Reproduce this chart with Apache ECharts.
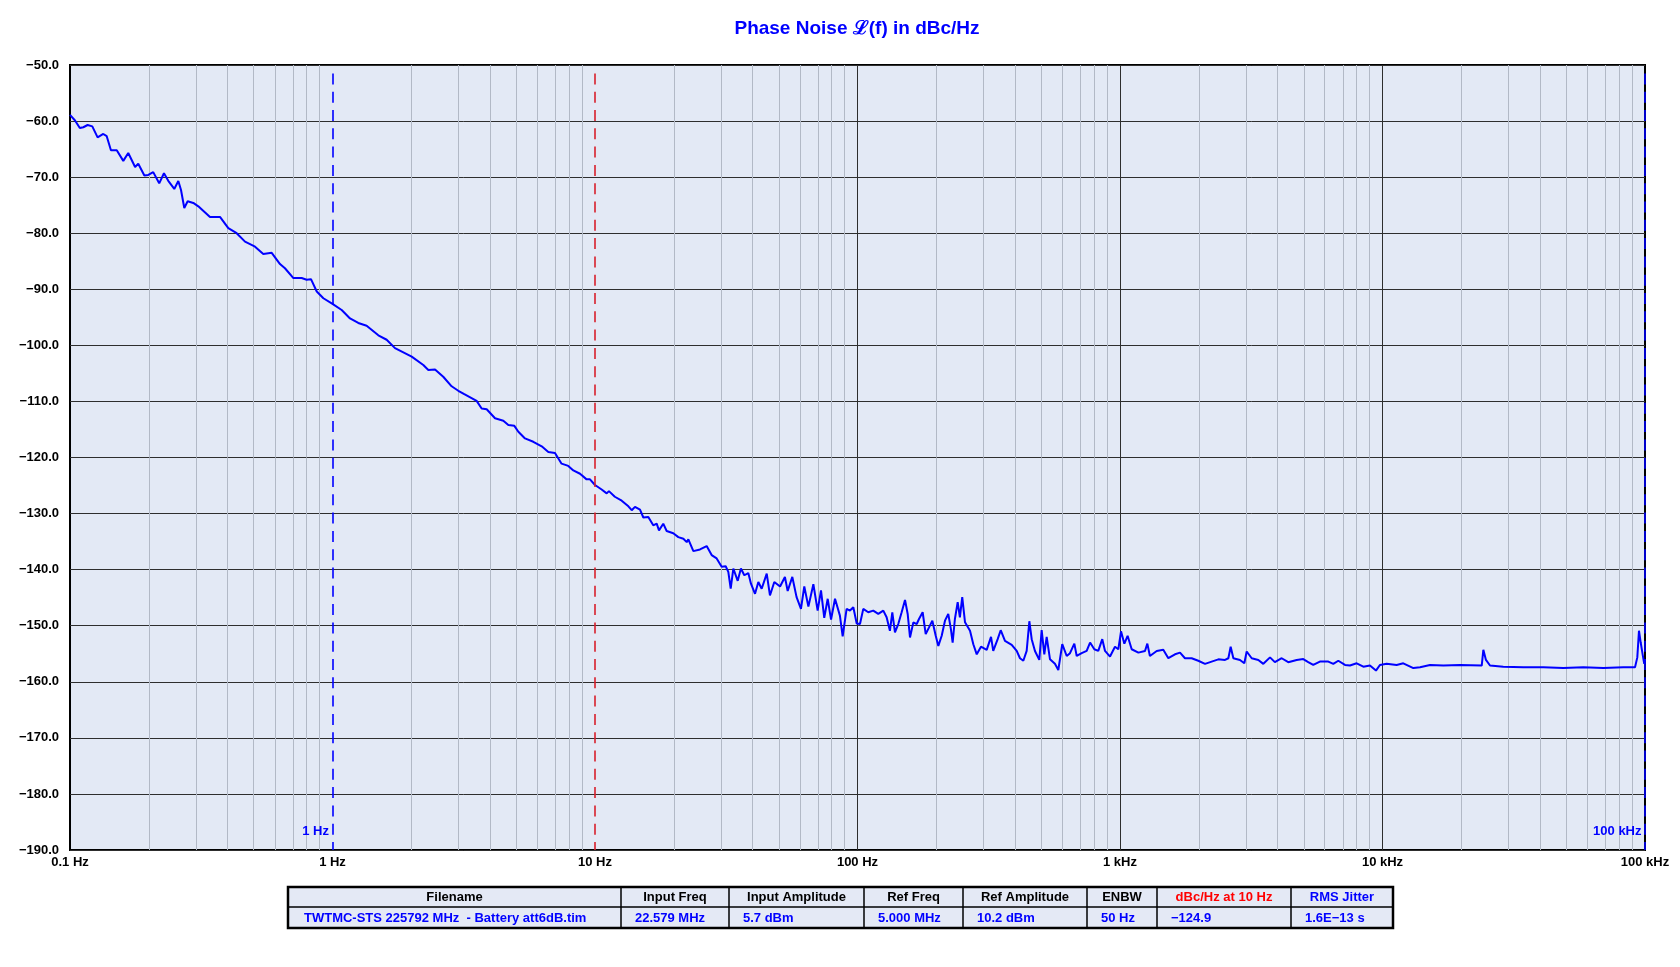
<!DOCTYPE html>
<html>
<head>
<meta charset="utf-8">
<script src="https://cdn.jsdelivr.net/npm/echarts@6/dist/echarts.min.js"></script>
<style>
html,body{margin:0;padding:0;background:#fff;}
#chart{width:1680px;height:967px;}
</style>
</head>
<body>
<div id="chart"></div>
<script>
// ---------------- data ----------------
const titleText = 'Phase Noise \u2112(f) in dBc/Hz';
const decadeLabels = ['0.1 Hz', '1 Hz', '10 Hz', '100 Hz', '1 kHz', '10 kHz', '100 kHz'];
const yMin = -190, yMax = -50, yStep = 10;

const freqHz = [
  0.1, 0.1045, 0.109, 0.1124, 0.1167, 0.1216, 0.1274, 0.1339, 0.138, 0.1432,
  0.1507, 0.1596, 0.1667, 0.177, 0.182, 0.192, 0.1987, 0.2075, 0.2187, 0.228,
  0.2368, 0.2496, 0.2586, 0.2648, 0.2725, 0.2807, 0.2949, 0.3082, 0.3414, 0.3727,
  0.4009, 0.4315, 0.4642, 0.5069, 0.5449, 0.5867, 0.631, 0.659, 0.7097, 0.763,
  0.797, 0.828, 0.871, 0.923, 1.0, 1.084, 1.166, 1.254, 1.349, 1.495,
  1.608, 1.73, 2.003, 2.218, 2.318, 2.458, 2.642, 2.843, 3.015, 3.177,
  3.54, 3.70, 3.867, 4.16, 4.475, 4.676, 4.929, 5.105, 5.412, 5.82,
  6.265, 6.64, 7.04, 7.46, 7.91, 8.27, 8.77, 9.29, 9.57, 10.0,
  10.6, 11.08, 11.3, 11.9, 12.64, 13.4, 13.8, 14.2, 14.84, 15.28,
  15.96, 16.67, 17.18, 17.53, 18.2, 18.75, 19.87, 20.77, 21.71, 22.36,
  22.68, 23.7, 25.12, 26.63, 27.82, 29.07, 30.38, 31.47, 32.2, 32.88,
  33.65, 34.97, 35.97, 37.05, 38.37, 39.28, 40.7, 41.9, 43.15, 45.1,
  46.4, 48.2, 50.7, 52.9, 54.2, 56.45, 58.6, 60.9, 62.7, 65.0,
  67.9, 70.5, 72.6, 74.7, 77.0, 79.3, 82.1, 85.7, 87.8, 90.9,
  93.6, 96.4, 99.3, 102.2, 105.2, 109.9, 114.8, 120.0, 125.4, 129.1,
  132.9, 135.7, 138.9, 143.0, 147.3, 151.7, 155.3, 158.5, 163.2, 168.1,
  171.5, 177.1, 181.9, 187.3, 192.8, 198.6, 203.2, 209.3, 215.4, 221.7,
  226.9, 230.4, 235.0, 240.8, 245.5, 250.6, 256.8, 268.3, 276.2, 284.6,
  295.4, 310.6, 322.6, 328.9, 342.0, 351.2, 364.6, 386.8, 404.1, 415.9,
  428.3, 441.0, 451.5, 460.9, 474.3, 492.7, 503.0, 514.8, 525.6, 541.2,
  565.1, 582.1, 602.6, 626.6, 645.0, 669.9, 684.0, 714.5, 746.5, 769.1,
  798.3, 826.5, 856.0, 876.9, 916.2, 957.0, 985.6, 1009, 1039, 1069,
  1108, 1175, 1245, 1271, 1300, 1380, 1462, 1528, 1620, 1693,
  1768, 1875, 1987, 2108, 2234, 2370, 2512, 2587, 2640, 2703,
  2864, 2976, 3038, 3175, 3365, 3516, 3728, 3890, 4130, 4375,
  4710, 4990, 5213, 5447, 5775, 6217, 6495, 6786, 7195, 7516,
  7973, 8454, 8957, 9443, 9776, 10370, 11320, 12000, 13110, 13900,
  15170, 17060, 19730, 23880, 24220, 24780, 25680, 28840, 34380, 40990,
  48860, 58230, 69390, 82670, 91620, 93480, 94850, 96300, 97940, 99330,
  100000
];
const noiseDbc = [
  -58.9, -59.9, -61.25, -61.1, -60.7, -60.95, -62.9, -62.3, -62.7, -65.2,
  -65.2, -67.1, -65.7, -68.2, -67.6, -69.7, -69.6, -69.1, -71.1, -69.3,
  -70.65, -72.1, -70.7, -72.3, -75.5, -74.3, -74.6, -75.2, -77.1, -77.1,
  -79.1, -80.0, -81.5, -82.4, -83.7, -83.5, -85.5, -86.25, -88.0, -88.0,
  -88.3, -88.2, -90.4, -91.6, -92.6, -93.7, -95.2, -96.0, -96.5, -98.2,
  -99.0, -100.5, -102.0, -103.5, -104.4, -104.3, -105.6, -107.3, -108.1, -108.7,
  -109.9, -111.25, -111.4, -113.0, -113.45, -114.2, -114.35, -115.4, -116.6, -117.2,
  -118.0, -119.0, -119.2, -121.1, -121.5, -122.3, -122.9, -123.9, -123.9, -124.9,
  -125.7, -126.4, -126.0, -127.0, -127.7, -128.7, -129.4, -128.8, -129.3, -130.7,
  -130.6, -132.1, -131.8, -133.0, -131.8, -133.1, -133.5, -134.2, -134.5, -135.1,
  -134.6, -136.7, -136.4, -135.8, -137.4, -138.0, -139.5, -139.4, -140.4, -143.4,
  -139.8, -142.0, -139.8, -141.0, -140.6, -142.5, -144.3, -142.2, -143.4, -140.7,
  -144.6, -142.2, -143.0, -141.3, -143.8, -141.3, -144.9, -147.0, -143.0, -146.6,
  -142.6, -147.3, -143.7, -148.6, -145.2, -148.9, -145.2, -148.2, -151.9, -147.0,
  -147.3, -146.7, -149.6, -149.7, -147.0, -147.6, -147.3, -147.9, -147.3, -148.5,
  -150.9, -147.6, -151.2, -149.7, -147.6, -145.4, -147.9, -152.1, -149.4, -149.7,
  -148.8, -147.6, -151.5, -150.3, -149.1, -151.8, -153.6, -151.8, -149.1, -147.9,
  -150.6, -153.0, -148.8, -145.8, -148.5, -144.9, -149.4, -150.9, -153.3, -155.1,
  -153.75, -154.3, -152.0, -154.5, -152.4, -150.8, -152.7, -153.4, -154.5, -155.8,
  -156.25, -154.5, -149.2, -152.4, -154.5, -156.1, -150.8, -155.1, -152.0, -156.0,
  -156.8, -157.9, -153.3, -155.4, -154.9, -153.2, -155.4, -154.9, -154.5, -153.0,
  -154.2, -154.5, -152.4, -154.5, -155.5, -153.75, -154.2, -151.0, -153.2, -151.8,
  -154.2, -154.8, -154.5, -153.2, -155.4, -154.5, -154.3, -155.8, -155.1, -154.8,
  -155.8, -155.8, -156.25, -156.8, -156.4, -156.0, -156.1, -155.8, -153.75, -155.8,
  -156.1, -156.7, -154.6, -155.8, -156.1, -156.8, -155.65, -156.5, -155.8, -156.5,
  -156.1, -155.95, -156.5, -157.0, -156.4, -156.4, -156.8, -156.25, -157.0, -157.1,
  -156.7, -157.3, -157.1, -158.0, -157.0, -156.8, -157.0, -156.7, -157.55, -157.4,
  -157.0, -157.1, -157.0, -157.1, -154.3, -156.1, -157.1, -157.3, -157.4, -157.4,
  -157.55, -157.4, -157.55, -157.4, -157.4, -155.65, -150.9, -153.0, -155.1, -156.8,
  -155.95
];

const markerFreqs = [1, 10, 100000];
const markerColors = ['#0000ff', '#d8202c', '#0000ff'];
const markerLabels = ['1 Hz', '', '100 kHz'];

const tableHeaders = ['Filename', 'Input Freq', 'Input Amplitude', 'Ref Freq', 'Ref Amplitude', 'ENBW', 'dBc/Hz at 10 Hz', 'RMS Jitter'];
const headerColors = ['#000', '#000', '#000', '#000', '#000', '#000', '#ff0000', '#0000ff'];
const tableValues = ['TWTMC-STS 225792 MHz  - Battery att6dB.tim', '22.579 MHz', '5.7 dBm', '5.000 MHz', '10.2 dBm', '50 Hz', '\u2212124.9', '1.6E\u221213 s'];

// ---------------- layout ----------------
const FONT = '"Liberation Sans", Arial, Helvetica, sans-serif';
const gridBox = {left: 70, right: 35, top: 65, bottom: 117};
const lg = (f) => Math.log10(f);

const seriesData = freqHz.map((f, i) => [lg(f), noiseDbc[i]]);

// grid lines in the log axis: minor (2..9 per decade) and major decades inside
const gridLineItems = [];
for (let d = -1; d < 5; d++) {
  for (let k = 2; k <= 9; k++) {
    gridLineItems.push({xAxis: lg(k * Math.pow(10, d)), lineStyle: {color: '#b2b9c6', width: 1, type: 'solid'}});
  }
}
[100, 1000, 10000].forEach((f) => {
  gridLineItems.push({xAxis: lg(f), lineStyle: {color: '#2e2e2e', width: 1, type: 'solid'}});
});

const markerLineItems = markerFreqs.map((f, i) => [
  {coord: [lg(f), -51.5], lineStyle: {color: markerColors[i], width: 1.6, type: [11, 7.3]}},
  {coord: [lg(f), yMin]}
]);
const markerPointItems = markerFreqs.map((f, i) => ({
  coord: [lg(f), -186.6],
  label: {formatter: markerLabels[i]}
})).filter((p, i) => markerLabels[i] !== '');

// table graphic
const colEdges = [288, 621, 729, 864, 963, 1087, 1157, 1291, 1393];
const tTop = 887, tMid = 907, tBot = 928;
const tableGraphics = [];
tableGraphics.push({type: 'rect', shape: {x: colEdges[0], y: tTop, width: colEdges[colEdges.length - 1] - colEdges[0], height: tBot - tTop},
  style: {fill: '#e4e9f5', stroke: '#000', lineWidth: 2.5}, z: 10});
tableGraphics.push({type: 'line', shape: {x1: colEdges[0], y1: tMid, x2: colEdges[colEdges.length - 1], y2: tMid},
  style: {stroke: '#000', lineWidth: 1.5}, z: 11});
for (let i = 1; i < colEdges.length - 1; i++) {
  tableGraphics.push({type: 'line', shape: {x1: colEdges[i], y1: tTop, x2: colEdges[i], y2: tBot},
    style: {stroke: '#000', lineWidth: 1.5}, z: 11});
}
tableHeaders.forEach((h, i) => {
  tableGraphics.push({type: 'text', x: (colEdges[i] + colEdges[i + 1]) / 2, y: (tTop + tMid) / 2 + 0.5, z: 12,
    style: {text: h, align: 'center', verticalAlign: 'middle', font: 'bold 13px ' + FONT, fill: headerColors[i]}});
});
tableValues.forEach((v, i) => {
  tableGraphics.push({type: 'text', x: colEdges[i] + (i === 0 ? 16 : 14), y: (tMid + tBot) / 2 + 0.5, z: 12,
    style: {text: v, align: 'left', verticalAlign: 'middle', font: 'bold 13px ' + FONT, fill: '#0000ff'}});
});

const chart = echarts.init(document.getElementById('chart'), null, {renderer: 'canvas'});
chart.setOption({
  animation: false,
  backgroundColor: '#ffffff',
  textStyle: {fontFamily: FONT},
  grid: Object.assign({show: true, backgroundColor: '#e3e9f5', borderColor: '#000', borderWidth: 2, containLabel: false}, gridBox),
  graphic: [
    {type: 'text', x: 857, y: 29, z: 12,
      style: {text: titleText, align: 'center', verticalAlign: 'middle', font: 'bold 19px ' + FONT, fill: '#0000ff'}}
  ].concat(tableGraphics),
  xAxis: {
    type: 'value', min: -1, max: 5, interval: 1,
    axisLine: {show: false}, axisTick: {show: false}, splitLine: {show: false},
    axisLabel: {
      margin: 6, color: '#000', fontWeight: 'bold', fontSize: 13, fontFamily: FONT,
      showMinLabel: true, showMaxLabel: true,
      formatter: (v) => decadeLabels[Math.round(v) + 1]
    }
  },
  yAxis: {
    type: 'value', min: yMin, max: yMax, interval: yStep,
    axisLine: {show: false}, axisTick: {show: false},
    splitLine: {show: true, lineStyle: {color: '#2e2e2e', width: 1}},
    axisLabel: {
      margin: 11, color: '#000', fontWeight: 'bold', fontSize: 13, fontFamily: FONT,
      formatter: (v) => (v < 0 ? '\u2212' : '') + Math.abs(v).toFixed(1)
    }
  },
  series: [
    {
      name: 'grid', type: 'line', data: [], silent: true, z: 1,
      markLine: {silent: true, z: 1, symbol: ['none', 'none'], animation: false,
        label: {show: false}, emphasis: {disabled: true}, data: gridLineItems}
    },
    {
      name: 'phase noise', type: 'line', data: seriesData, z: 3,
      showSymbol: false, symbol: 'none', smooth: false, silent: true,
      lineStyle: {color: '#0000ff', width: 2},
      itemStyle: {color: '#0000ff'}
    },
    {
      name: 'markers', type: 'line', data: [], silent: true, z: 4,
      markLine: {silent: true, z: 4, symbol: ['none', 'none'], animation: false,
        label: {show: false}, emphasis: {disabled: true}, data: markerLineItems},
      markPoint: {silent: true, z: 5, symbol: 'circle', symbolSize: 1, animation: false,
        itemStyle: {color: 'rgba(0,0,0,0)'},
        label: {show: true, position: 'left', distance: 3, color: '#0000ff', fontWeight: 'bold', fontSize: 13, fontFamily: FONT},
        data: markerPointItems}
    }
  ]
});
</script>
</body>
</html>
